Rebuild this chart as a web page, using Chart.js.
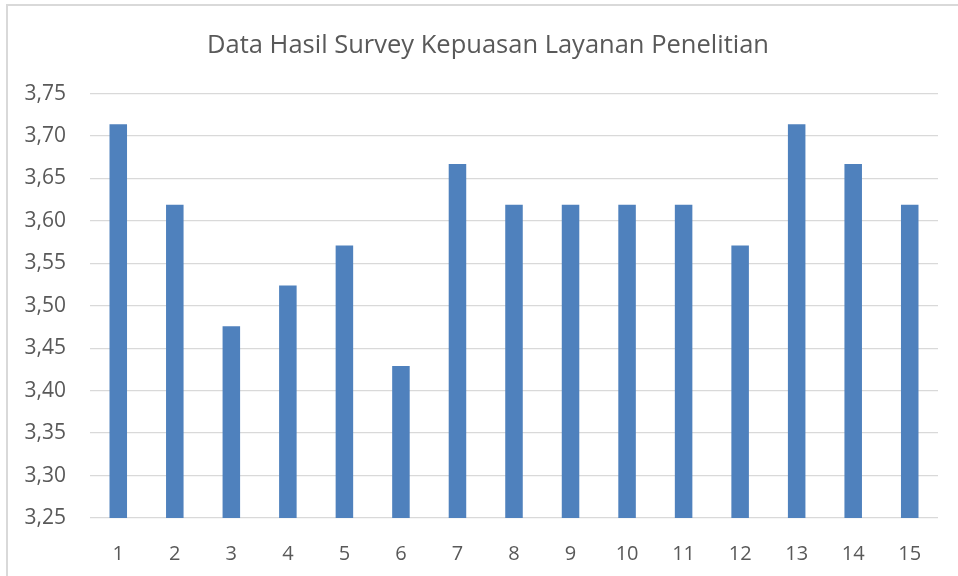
<!DOCTYPE html>
<html>
<head>
<meta charset="utf-8">
<script src="https://cdn.jsdelivr.net/npm/chart.js@4/dist/chart.umd.min.js"></script>
<style>
  html, body { margin: 0; padding: 0; background: #fff; overflow: hidden; }
  #wrap { position: relative; width: 958px; height: 576px; }
  #frame { position: absolute; left: 6px; top: 4px; width: 1000px; height: 1000px;
           border-left: 2px solid #d9d9d9; border-top: 2px solid #d9d9d9; }
  canvas { position: absolute; left: 0; top: 0; }
</style>
</head>
<body>
<div id="wrap">
  <div id="frame"></div>
  <canvas id="grafik" width="958" height="576"></canvas>
</div>
<script>
// data survey (skala 1-4)
const kategori = ["1", "2", "3", "4", "5", "6", "7", "8", "9", "10", "11", "12", "13", "14", "15"];
const nilai = [3.714, 3.619, 3.476, 3.524, 3.571, 3.429, 3.667, 3.619, 3.619, 3.619, 3.619, 3.571, 3.714, 3.667, 3.619];
const judul = "Data Hasil Survey Kepuasan Layanan Penelitian";

const fontUtama = "'Open Sans', sans-serif";

const ctx = document.getElementById("grafik").getContext("2d");
new Chart(ctx, {
  type: "bar",
  data: {
    labels: kategori,
    datasets: [{
      data: nilai,
      backgroundColor: "#4f81bd",
      categoryPercentage: 1,
      barPercentage: 0.31
    }]
  },
  options: {
    responsive: false,
    animation: false,
    // padding kiri supaya judul agak ke kanan seperti aslinya
    layout: { padding: { left: 18, right: 0, top: 0, bottom: 0 } },
    plugins: {
      legend: { display: false },
      tooltip: { enabled: false },
      title: {
        display: true,
        text: judul,
        color: "#595959",
        font: { family: fontUtama, size: 25.5, weight: "normal" },
        padding: { top: 30, bottom: 33 }
      }
    },
    scales: {
      x: {
        grid: { display: false },
        border: { display: false },
        ticks: { color: "#595959", font: { family: fontUtama, size: 20 }, padding: 16 },
        afterFit: function (s) { s.height = 58; }
      },
      y: {
        min: 3.25,
        max: 3.75,
        border: { display: false },
        grid: { color: "#d9d9d9", lineWidth: 1.3, drawTicks: false },
        ticks: {
          stepSize: 0.05,
          color: "#595959",
          padding: 24,
          font: { family: fontUtama, size: 21 },
          callback: function (v) { return v.toFixed(2).replace(".", ","); }
        },
        afterFit: function (s) { s.width = 72; }
      },
      // sumbu kosong di kanan, hanya untuk memberi jarak
      kanan: {
        type: "linear",
        position: "right",
        grid: { display: false },
        border: { display: false },
        ticks: { display: false },
        afterFit: function (s) { s.width = 20; }
      }
    }
  }
});
</script>
</body>
</html>
